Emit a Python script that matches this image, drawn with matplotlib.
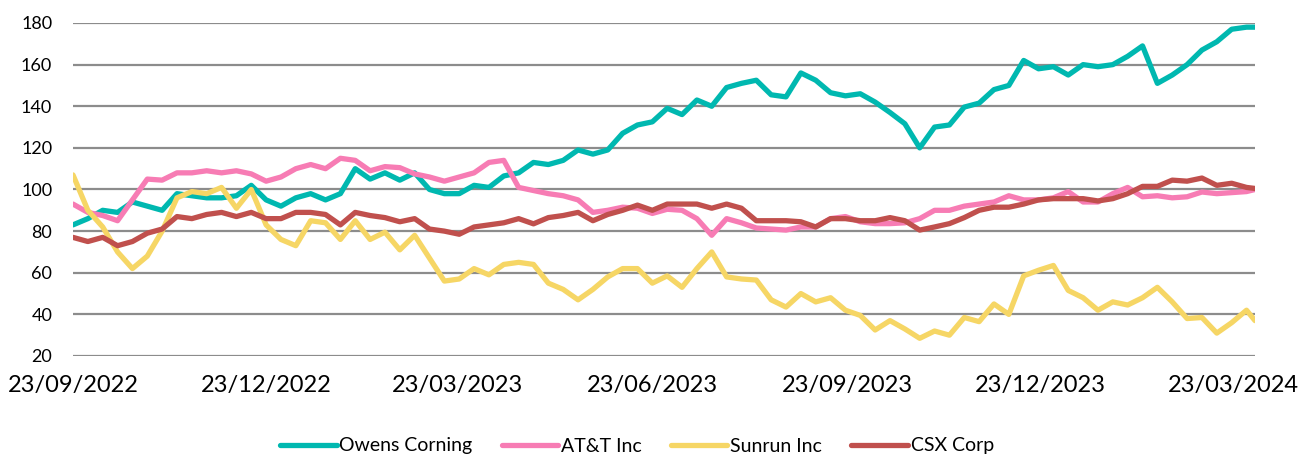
import matplotlib
matplotlib.use("Agg")
import matplotlib.pyplot as plt
import matplotlib.dates as mdates
import pandas as pd

plt.rcParams['font.family'] = ['Lato', 'DejaVu Sans']

# weekly readings from 23/09/2022, plus a last point on 02/04/2024
dates = list(pd.date_range('2022-09-23', periods=80, freq='7D')) + [pd.Timestamp('2024-04-02')]

owens_corning = [83, 86, 90, 89, 94, 92, 90, 98, 97, 96,
                 96, 97, 102, 95, 92, 96, 98, 95, 98, 110,
                 105, 108, 104.5, 108, 100, 98, 98, 102, 101, 106.5,
                 108, 113, 112, 114, 119, 117, 119, 127, 131, 132.5,
                 139, 136, 143, 140, 149, 151, 152.5, 145.5, 144.5, 156,
                 152.5, 146.5, 145, 146, 142, 137, 131.6, 120, 130, 131,
                 139.6, 141.5, 148, 150, 162, 158, 159, 155, 160, 159,
                 160, 164, 169, 151, 155, 160, 167, 171, 177, 178, 178]

att = [93, 89, 87.5, 85, 95, 105, 104.5, 108, 108, 109,
       108, 109, 107.5, 104, 106, 110, 112, 110, 115, 114,
       109, 111, 110.5, 107.5, 106, 104, 106, 108, 113, 114,
       101, 99.5, 98, 97, 95, 89, 90, 91.5, 91, 88.5,
       90.5, 90, 86, 78, 86, 84, 81.5, 81, 80.5, 82,
       82, 86, 87, 84.5, 83.6, 83.6, 84, 86, 90, 90,
       92, 93, 94, 97, 95, 95, 96, 99, 94, 94,
       98, 101, 96.5, 97, 96, 96.5, 98.8, 98, 98.5, 99, 100]

sunrun = [107, 90, 82, 70, 62, 68, 80, 96, 99, 98,
          101, 91, 100, 83, 76, 73, 85, 84, 76, 85,
          76, 79.5, 71, 78, 67, 56, 57, 62, 59, 64,
          65, 64, 55, 52, 47, 52, 58, 62, 62, 55,
          58.5, 53, 62, 70, 58, 57, 56.5, 47, 43.5, 50,
          46, 48, 42, 39.5, 32.5, 37, 33, 28.5, 32, 30,
          38.5, 36.5, 45, 40, 58.5, 61.2, 63.5, 51.5, 48, 42,
          46, 44.5, 48, 53, 46, 38, 38.5, 31, 36, 42, 37]

csx = [77, 75, 77, 73, 75, 79, 81, 87, 86, 88,
       89, 87, 89, 86, 86, 89, 89, 88, 83, 89,
       87.5, 86.5, 84.5, 86, 81, 80, 78.5, 82, 83, 84,
       86, 83.5, 86.5, 87.5, 89, 85, 88, 90, 92.5, 90,
       93, 93, 93, 91, 93, 91, 85, 85, 85, 84.5,
       82, 86, 86, 85, 85, 86.5, 85, 80.5, 82, 83.6,
       86.5, 90, 91.5, 91.5, 93, 95, 95.6, 95.6, 95.6, 94.5,
       95.6, 98, 101.5, 101.5, 104.5, 104, 105.5, 102, 103, 101, 100.5]

series = [("Owens Corning", owens_corning, "#00B8B0"),
          ("AT&T Inc", att, "#F77CB4"),
          ("Sunrun Inc", sunrun, "#F6D665"),
          ("CSX Corp", csx, "#C0504D")]

tick_dates = pd.to_datetime(['2022-09-23', '2022-12-23', '2023-03-23', '2023-06-23',
                             '2023-09-23', '2023-12-23', '2024-03-23'])

fig = plt.figure(figsize=(13.02, 4.59), dpi=100)
ax = fig.add_axes([73 / 1302, 1 - 356 / 459, (1255 - 73) / 1302, 333 / 459])

for name, vals, col in series:
    ax.plot(dates, vals, color=col, lw=3.8, label=name,
            solid_joinstyle='round', solid_capstyle='round')

ax.set_ylim(20, 180)
ax.set_yticks(range(20, 181, 20))
ax.set_xlim(dates[0], dates[-1])
ax.set_xticks(tick_dates)
ax.xaxis.set_major_formatter(mdates.DateFormatter('%d/%m/%Y'))

ax.grid(axis='y', color='#8C8C8C', lw=1.6)
ax.set_axisbelow(True)
for s in ax.spines.values():
    s.set_visible(False)
ax.tick_params(axis='y', length=0, pad=15, labelsize=13)
ax.tick_params(axis='x', length=0, pad=14, labelsize=17)

# legend sits at the bottom edge, kept just inside the figure
fig.legend(loc='center', bbox_to_anchor=(637 / 1302, 1 - 446 / 459), ncol=4,
           frameon=False, fontsize=14, handlelength=2.9, handletextpad=0.15,
           columnspacing=1.5, borderpad=0)

fig.savefig('out.png', dpi=100)
